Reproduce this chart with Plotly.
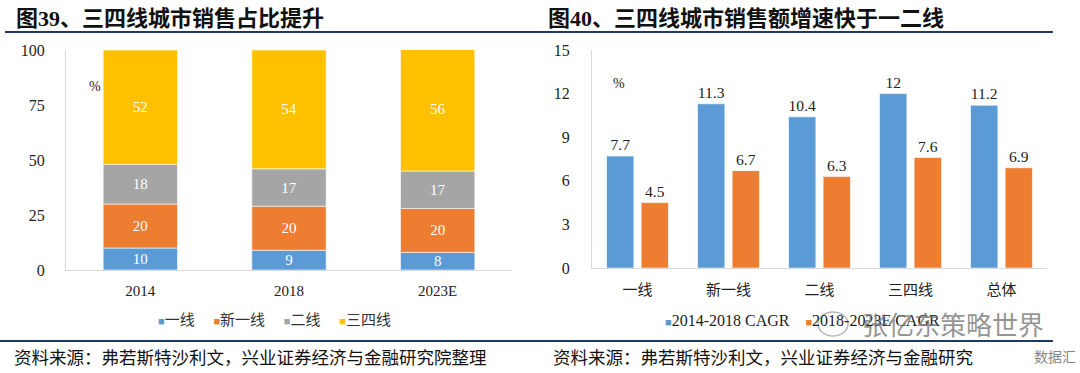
import plotly.graph_objects as go

# ---------------- data ----------------
years = ["2014", "2018", "2023E"]
tier1 = [10, 9, 8]
new_tier1 = [20, 20, 20]
tier2 = [18, 17, 17]
tier34 = [52, 54, 56]
share_names = ["一线", "新一线", "二线", "三四线"]

cities = ["一线", "新一线", "二线", "三四线", "总体"]
cagr_1418 = [7.7, 11.3, 10.4, 12, 11.2]
cagr_1823 = [4.5, 6.7, 6.3, 7.6, 6.9]
cagr_names = ["2014-2018 CAGR", "2018-2023E CAGR"]

left_ticks = [0, 25, 50, 75, 100]
right_ticks = [0, 3, 6, 9, 12, 15]

# ---------------- style ----------------
W, H = 1080, 373
BLUE, ORANGE, GRAY, YELLOW = "#5B9BD5", "#ED7D31", "#A5A5A5", "#FFC000"
SERIF = "Liberation Serif, Noto Sans CJK SC"
CJK = "Noto Sans CJK SC"
NAVY = "#1F3864"


def px(x):
    return x / W


def py(y):
    return 1 - y / H


fig = go.Figure()

share_series = [tier1, new_tier1, tier2, tier34]
share_colors = [BLUE, ORANGE, GRAY, YELLOW]
for name, vals, col in zip(share_names, share_series, share_colors):
    fig.add_trace(go.Bar(
        x=years, y=vals, name=name, marker=dict(color=col, line=dict(color="rgba(255,255,255,0.6)", width=1)),
        text=[str(v) for v in vals], textposition="inside", insidetextanchor="middle",
        textangle=0, textfont=dict(color="white", size=15, family=SERIF),
        xaxis="x", yaxis="y", showlegend=False, cliponaxis=True,
    ))

for name, vals, col in zip(cagr_names, [cagr_1418, cagr_1823], [BLUE, ORANGE]):
    fig.add_trace(go.Bar(
        x=cities, y=vals, name=name, marker=dict(color=col, line=dict(color="rgba(255,255,255,0.6)", width=1)),
        text=[f"{v:g}" for v in vals], textposition="outside",
        textfont=dict(color="#222222", size=16, family=SERIF),
        xaxis="x2", yaxis="y2", showlegend=False, cliponaxis=False,
        offsetgroup=name,
    ))

axis_common = dict(showgrid=False, zeroline=False, showline=True, linecolor="#D9D9D9", linewidth=1,
                   ticks="", fixedrange=True, automargin=False)

fig.update_layout(
    width=W, height=H, margin=dict(l=0, r=0, t=0, b=0, autoexpand=False),
    paper_bgcolor="white", plot_bgcolor="white",
    barmode="relative",
    uniformtext=dict(minsize=15, mode="show"),
    xaxis=dict(domain=[px(66), px(512)], anchor="y", **axis_common,
               tickfont=dict(size=15, family=SERIF, color="#222222"), ticklabelstandoff=7),
    yaxis=dict(domain=[py(270), py(50)], anchor="x", range=[0, 100], tickvals=left_ticks,
               **axis_common, tickfont=dict(size=16, family=SERIF, color="#222222"), ticklabelstandoff=17),
    xaxis2=dict(domain=[px(592), px(1047)], anchor="y2", **axis_common,
                tickfont=dict(size=15, family=CJK, color="#222222"), ticklabelstandoff=8),
    yaxis2=dict(domain=[py(268), py(50)], anchor="x2", range=[0, 15], tickvals=right_ticks,
                **axis_common, tickfont=dict(size=16, family=SERIF, color="#222222"), ticklabelstandoff=18),
    bargap=0.5,
)

# grouped bars on right panel
fig.data[4].update(width=0.3, offset=-0.34)
fig.data[5].update(width=0.3, offset=0.04)

ann = []
ann.append(dict(text="<b>图39、三四线城市销售占比提升</b>", x=px(14), y=py(18), xref="paper", yref="paper",
                xanchor="left", yanchor="middle", showarrow=False, font=dict(size=22, family=SERIF, color="#111111")))
ann.append(dict(text="<b>图40、三四线城市销售额增速快于一二线</b>", x=px(546), y=py(18), xref="paper", yref="paper",
                xanchor="left", yanchor="middle", showarrow=False, font=dict(size=22, family=SERIF, color="#111111")))
ann.append(dict(text="%", x=px(87), y=py(77), xref="paper", yref="paper", showarrow=False,
                font=dict(size=14, family=SERIF, color="#222222")))
ann.append(dict(text="%", x=px(619), y=py(74), xref="paper", yref="paper", showarrow=False,
                font=dict(size=14, family=SERIF, color="#222222")))


def legend_html(names, colors, sep):
    parts = []
    for n, c in zip(names, colors):
        parts.append(f"<span style='color:{c};font-size:11px'>■</span>{n}")
    return sep.join(parts)


ann.append(dict(text=legend_html(share_names, share_colors, "     "), x=px(274), y=py(320), xref="paper", yref="paper",
                xanchor="center", yanchor="middle", showarrow=False,
                font=dict(size=15, family=SERIF, color="#333333")))
ann.append(dict(text=legend_html(cagr_names, [BLUE, ORANGE], "    "), x=px(663), y=py(320), xref="paper", yref="paper",
                xanchor="left", yanchor="middle", showarrow=False,
                font=dict(size=16, family=SERIF, color="#222222")))
ann.append(dict(text="张亿东策略世界", x=px(860), y=py(323), xref="paper", yref="paper",
                xanchor="left", yanchor="middle", showarrow=False,
                font=dict(size=26, family=CJK, color="rgba(120,120,120,0.8)")))
src = "资料来源：弗若斯特沙利文，兴业证券经济与金融研究院整理"
ann.append(dict(text=src, x=px(12), y=py(356), xref="paper", yref="paper", xanchor="left", yanchor="middle",
                showarrow=False, font=dict(size=17.5, family=CJK, color="#111111")))
ann.append(dict(text="资料来源：弗若斯特沙利文，兴业证券经济与金融研究", x=px(551), y=py(356), xref="paper", yref="paper",
                xanchor="left", yanchor="middle", showarrow=False, font=dict(size=17.5, family=CJK, color="#111111")))
ann.append(dict(text="数据汇", x=px(1078), y=py(356), xref="paper", yref="paper", xanchor="right", yanchor="middle",
                showarrow=False, font=dict(size=14, family=CJK, color="#888888")))
fig.update_layout(annotations=ann)

shapes = [
    dict(type="line", xref="paper", yref="paper", x0=px(5), x1=px(1053), y0=py(32), y1=py(32),
         line=dict(color=NAVY, width=2)),
    dict(type="line", xref="paper", yref="paper", x0=px(0), x1=px(1053), y0=py(341), y1=py(341),
         line=dict(color=NAVY, width=2)),
    dict(type="circle", xref="paper", yref="paper", x0=px(818), x1=px(848), y0=py(336), y1=py(312),
         line=dict(color="rgba(150,150,150,0.7)", width=1.5)),
]
fig.update_layout(shapes=shapes)

fig.write_html("out.html", config={"displayModeBar": False},
               post_script="document.body.style.margin='0';")
